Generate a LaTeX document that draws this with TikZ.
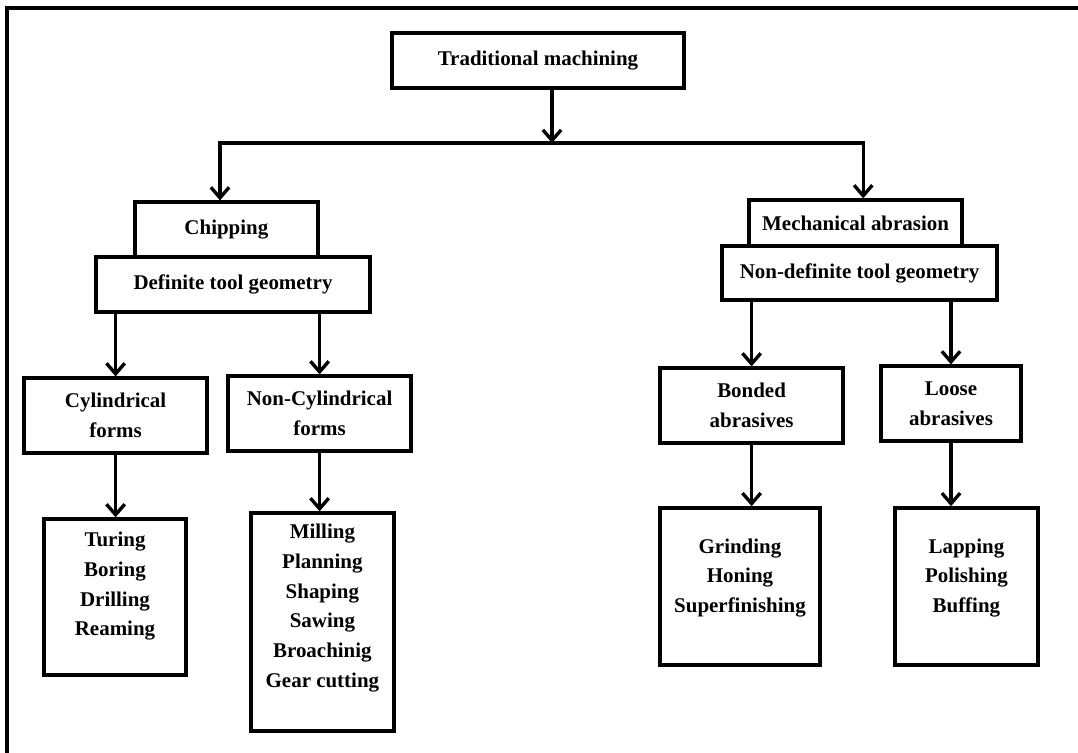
\documentclass[tikz,border=0pt]{standalone}
\usepackage{fontspec}
\setmainfont{Liberation Serif}
\usetikzlibrary{arrows.meta,positioning}

\begin{document}
\begin{tikzpicture}[caixa/.style={draw, line width=2.4pt, rectangle, inner sep=0pt, align=center, font=\fontsize{14.9}{21.3}\selectfont\bfseries},
lista/.style={inner sep=0pt, align=center, font=\fontsize{14.9}{21.3}\selectfont\bfseries},
seta/.style={line width=2.4pt, -{Straight Barb[length=7.5pt,width=13pt]}}] %estilos das caixas e das setas

\useasboundingbox (0,0) rectangle (26.95,-18.825); %tamanho da figura

%----------------------------------------------------
%Moldura
%----------------------------------------------------
\draw[line width=2.4pt] (0.175,-19) -- (0.175,-0.2) -- (27.2,-0.2); %so a borda esquerda e a de cima aparecem

%----------------------------------------------------
%Desenhar e posicionar todas as caixas
%----------------------------------------------------
\draw (13.45,-1.51) node[caixa, minimum width=7.3cm, minimum height=1.375cm](TRAD){Traditional machining}; %caixa do topo

%ramo da esquerda
\draw (5.66,-5.74) node[caixa, minimum width=4.575cm, minimum height=1.375cm](CHIP){Chipping};
\draw (5.825,-7.11) node[caixa, minimum width=6.85cm, minimum height=1.375cm](DEF){Definite tool geometry}; %encostada embaixo da CHIP
\draw (2.89,-10.39) node[caixa, minimum width=4.575cm, minimum height=1.875cm](CIL){Cylindrical\\forms};
\draw (7.99,-10.34) node[caixa, minimum width=4.575cm, minimum height=1.875cm](NCIL){Non-Cylindrical\\forms};
\draw (2.875,-14.925) node[caixa, minimum width=3.55cm, minimum height=3.9cm](TORN){};
\draw (8.06,-15.55) node[caixa, minimum width=3.575cm, minimum height=5.45cm](FRES){};

%ramo da direita
\draw (21.39,-5.575) node[caixa, minimum width=5.325cm, minimum height=1.15cm](MEC){Mechanical abrasion};
\draw (21.49,-6.825) node[caixa, minimum width=6.875cm, minimum height=1.35cm](NDEF){Non-definite tool geometry}; %encostada embaixo da MEC
\draw (18.79,-10.14) node[caixa, minimum width=4.575cm, minimum height=1.875cm](LIG){Bonded\\abrasives};
\draw (23.775,-10.09) node[caixa, minimum width=3.5cm, minimum height=1.875cm](SOLT){Loose\\abrasives};
\draw (18.5,-14.66) node[caixa, minimum width=4cm, minimum height=3.925cm](RETI){};
\draw (24.16,-14.66) node[caixa, minimum width=3.575cm, minimum height=3.925cm](LAPI){};

%textos das listas, presos no alto de cada caixa
\node[lista, below=0.35cm of TORN.north](TORNt){Turing\\Boring\\Drilling\\Reaming};
\node[lista, below=0.3cm of FRES.north](FRESt){Milling\\Planning\\Shaping\\Sawing\\Broachinig\\Gear cutting};
\node[lista, below=0.8cm of RETI.north](RETIt){Grinding\\Honing\\Superfinishing};
\node[lista, below=0.8cm of LAPI.north](LAPIt){Lapping\\Polishing\\Buffing};

%----------------------------------------------------
%Desenhar as conexoes
%----------------------------------------------------
\coordinate (JUN) at (13.8,-3.575); %ponto onde a seta do topo encontra a linha horizontal
\draw[seta] (JUN |- TRAD.south) -- (JUN);
\draw[seta] (JUN) -| ([xshift=-0.16cm]CHIP.north); %a seta cai um pouco a esquerda do centro
\draw[seta] (JUN) -| ([xshift=0.19cm]MEC.north); %e aqui um pouco a direita

\draw[seta] (CIL.north |- DEF.south) -- (CIL.north);
\draw[seta] (NCIL.north |- DEF.south) -- (NCIL.north);
\draw[seta] (CIL.south) -- (CIL.south |- TORN.north);
\draw[seta] (NCIL.south) -- (NCIL.south |- FRES.north);

\draw[seta] (LIG.north |- NDEF.south) -- (LIG.north);
\draw[seta] (SOLT.north |- NDEF.south) -- (SOLT.north);
\draw[seta] (LIG.south) -- (LIG.south |- RETI.north);
\draw[seta] (SOLT.south) -- (SOLT.south |- LAPI.north);

\end{tikzpicture}
\end{document}
